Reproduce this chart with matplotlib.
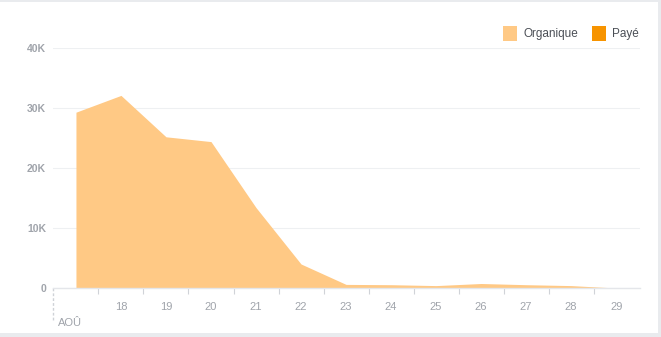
import matplotlib.pyplot as plt
from matplotlib.patches import Rectangle

plt.rcParams['font.family'] = ['Liberation Sans', 'DejaVu Sans']

# daily reach, august
days = [17, 18, 19, 20, 21, 22, 23, 24, 25, 26, 27, 28, 29]
organique = [29300, 32100, 25200, 24400, 13400, 4000, 600, 550, 400, 750, 550, 400, 0]
paye = [0, 0, 0, 0, 0, 0, 0, 0, 0, 0, 0, 0, 0]
day_labels = ["18", "19", "20", "21", "22", "23", "24", "25", "26", "27", "28", "29"]
y_ticks = [0, 10000, 20000, 30000, 40000]
y_labels = ["0", "10K", "20K", "30K", "40K"]

ORG = "#ffc985"
PAY = "#f79400"
TICK = "#a0a4ab"

W, H = 661, 337
fig = plt.figure(figsize=(W / 100, H / 100), dpi=100)
fig.patch.set_facecolor("#e9ebee")
fig.patches.append(Rectangle((0, 4 / H), 658 / W, 1 - 6 / H, transform=fig.transFigure,
                             facecolor="white", edgecolor="none", zorder=-5))

ax = fig.add_axes([53 / W, 1 - 288 / H, 587 / W, 240 / H])
ax.set_facecolor("none")

ax.fill_between(days, organique, 0, color=ORG, linewidth=0, zorder=2)
ax.fill_between(days, paye, 0, color=PAY, linewidth=0, zorder=3)

ax.set_xlim(16.49, 29.53)
ax.set_ylim(0, 40000)

for s in ["top", "right", "left"]:
    ax.spines[s].set_visible(False)
ax.spines["bottom"].set_color("#e4e6ea")
ax.spines["bottom"].set_linewidth(1)

ax.set_yticks(y_ticks)
ax.set_yticklabels(y_labels)
ax.tick_params(axis="y", length=0, pad=5, labelsize=7.5, labelcolor=TICK)
for lbl in ax.get_yticklabels():
    lbl.set_fontweight("bold")
ax.grid(axis="y", color="#eef0f2", linewidth=0.8, zorder=1)

# day labels centered, ticks between days
ax.set_xticks([d + 0.5 for d in days[:-1]], minor=True)
ax.set_xticks(days[1:])
ax.set_xticklabels(day_labels)
ax.tick_params(axis="x", which="major", length=0, pad=10, labelsize=8, labelcolor=TICK)
ax.tick_params(axis="x", which="minor", length=4, width=0.8, color="#d0d3d8", direction="out")

# month marker
ax.plot([16.49, 16.49], [0, -5300], color="#cfd2d7", linewidth=1, linestyle=(0, (2, 1.5)),
        clip_on=False, zorder=1)
ax.text(16.6, -5800, "AOÛ", fontsize=8, color=TICK, ha="left", va="center")

# legend
fig.patches.append(Rectangle((503 / W, 1 - 41 / H), 14 / W, 15 / H, transform=fig.transFigure,
                             facecolor=ORG, edgecolor="none"))
fig.text(523 / W, 1 - 33.5 / H, "Organique", fontsize=8.5, color="#4b4f56", va="center")
fig.patches.append(Rectangle((592 / W, 1 - 41 / H), 14 / W, 15 / H, transform=fig.transFigure,
                             facecolor=PAY, edgecolor="none"))
fig.text(612 / W, 1 - 33.5 / H, "Payé", fontsize=8.5, color="#4b4f56", va="center")

fig.savefig("out.png", dpi=100)
